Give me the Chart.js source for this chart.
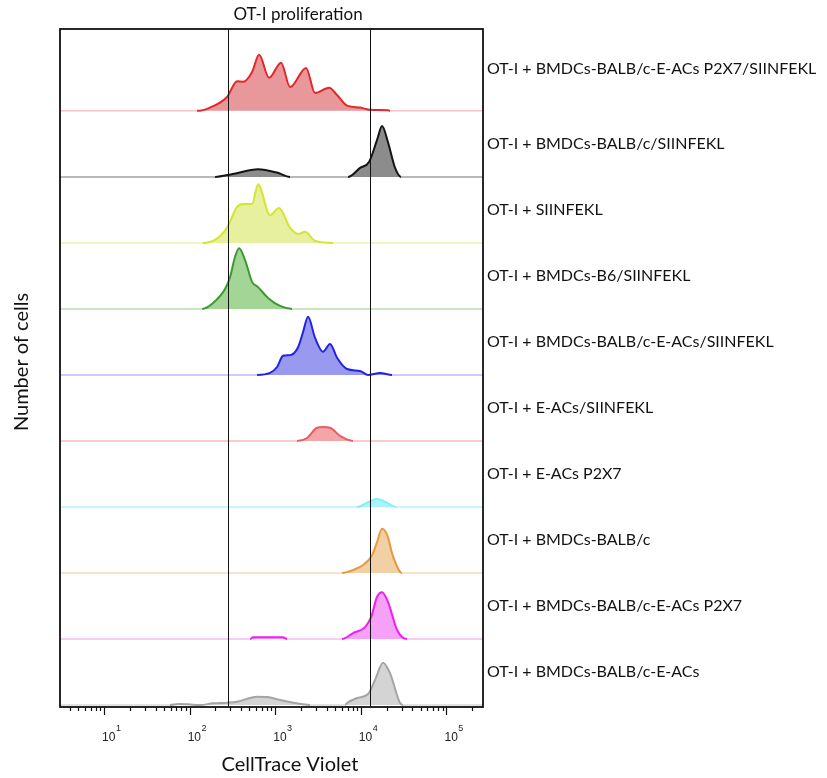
<!DOCTYPE html>
<html>
<head>
<meta charset="utf-8">
<title>OT-I proliferation</title>
<script src="https://cdn.jsdelivr.net/npm/chart.js@4.4.1/dist/chart.umd.min.js"></script>
<style>
  html, body { margin: 0; padding: 0; background: #fff; }
  #wrap { width: 827px; height: 778px; }
</style>
</head>
<body>
<div id="wrap"><canvas id="chart" width="827" height="778"></canvas></div>
<script>
// ---- data (CellTrace Violet intensity, relative cell count) ----
const sampleNames = [
    'OT-I + BMDCs-BALB/c-E-ACs P2X7/SIINFEKL',
    'OT-I + BMDCs-BALB/c/SIINFEKL',
    'OT-I + SIINFEKL',
    'OT-I + BMDCs-B6/SIINFEKL',
    'OT-I + BMDCs-BALB/c-E-ACs/SIINFEKL',
    'OT-I + E-ACs/SIINFEKL',
    'OT-I + E-ACs P2X7',
    'OT-I + BMDCs-BALB/c',
    'OT-I + BMDCs-BALB/c-E-ACs P2X7',
    'OT-I + BMDCs-BALB/c-E-ACs'
];

const hist1 = [[122,0],[173,0.05],[273,0.21],[358,0.45],[421,0.44],[536,0.59],[647,0.85],[846,0.50],[1169,0.73],[1489,0.36],[2290,0.65],[2917,0.27],[4251,0.35],[5270,0.24],[6898,0.08],[9786,0.05],[12800,0.015],[20780,0.008],[21940,0]];
const hist2 = [[198,0],[321,0.045],[630,0.116],[1049,0.065],[1489,0],[7086,0],[9786,0.136],[12460,0.227],[15460,0.56],[17680,0.77],[20780,0.52],[25090,0.136],[29480,0]];
const hist3 = [[143,0],[198,0.045],[273,0.23],[358,0.545],[421,0.59],[536,0.59],[630,0.89],[869,0.42],[1107,0.53],[1489,0.23],[1847,0.136],[2229,0.167],[2917,0.03],[4735,0]];
const hist4 = [[140,0],[188,0.09],[259,0.30],[296,0.48],[339,0.79],[378,0.92],[444,0.74],[536,0.41],[630,0.33],[824,0.167],[1138,0.045],[1572,0]];
const hist5 = [[613,0],[869,0.03],[1049,0.12],[1233,0.29],[1489,0.30],[1847,0.42],[2112,0.65],[2416,0.88],[2917,0.56],[3617,0.35],[4366,0.47],[5270,0.26],[6898,0.09],[9786,0.06],[12130,0],[16760,0.03],[23140,0]];
const hist6 = [[1797,0],[2352,0.045],[3078,0.20],[3617,0.21],[4366,0.20],[5714,0.076],[8110,0]];
const hist7 = [[9027,0],[11810,0.065],[15460,0.12],[19170,0.08],[25770,0]];
const hist8 = [[6030,0],[8110,0.045],[10610,0.12],[13510,0.27],[15460,0.47],[17680,0.67],[20230,0.58],[23780,0.25],[30280,0]];
const hist9 = [[508,0],[550,0.026],[1233,0.026],[1373,0],[6030,0],[8110,0.09],[11200,0.18],[13150,0.33],[15460,0.64],[17680,0.71],[20780,0.56],[26480,0.136],[34640,0]];
const hist10 = [[59,0],[73,0.015],[96,0.01],[132,0],[188,0.026],[273,0.035],[358,0.05],[613,0.126],[802,0.12],[1138,0.076],[2112,0.01],[2552,0],[6535,0],[6898,0.03],[9027,0.106],[12130,0.167],[14650,0.38],[18170,0.64],[21940,0.48],[28700,0.03],[31100,0]];

const gates = [281, 12800];
const tickPowers = [1, 2, 3, 4, 5];
const xMin = 3.06, xMax = 267000;

// ---- styles ----
const lineColors = ['#e3262b', '#141414', '#d2e62c', '#3c9b2e', '#2222e6', '#ea5c60', '#80eff9', '#e8993c', '#f21df2', '#a4a4a4'];
const fillColors = ['#e8979a', '#8c8c8c', '#e6f09e', '#a3d596', '#9999f0', '#f4a5a8', '#a6f5fb', '#f2d0a6', '#f7a0f7', '#d4d4d4'];
const baseColors = ['#f2c4c6', '#a0a0a0', '#e9f3b0', '#b6deac', '#bcbcf6', '#f6bcbe', '#b2f6fb', '#f3dab9', '#f8baf8', '#d8d8d8'];

const hists = [hist1, hist2, hist3, hist4, hist5, hist6, hist7, hist8, hist9, hist10];

const datasets = hists.map((h, i) => {
    const base = hists.length - 1 - i;
    const pts = [{x: xMin, y: base}]
        .concat(h.map(([v, c]) => ({x: v, y: base + c})))
        .concat([{x: xMax, y: base}]);
    const flat = ctx => ctx.p0.parsed.y === base && ctx.p1.parsed.y === base;
    return {
        label: sampleNames[i],
        data: pts,
        borderColor: lineColors[i],
        backgroundColor: fillColors[i],
        borderWidth: 2,
        pointRadius: 0,
        cubicInterpolationMode: 'monotone',
        fill: {value: base},
        segment: {
            borderColor: ctx => flat(ctx) ? baseColors[i] : lineColors[i],
            borderWidth: ctx => flat(ctx) ? 1.5 : 2
        }
    };
});

const decorPlugin = {
    id: 'decor',
    afterDatasetsDraw(chart) {
        const {ctx, chartArea: a, scales: {x, y}} = chart;
        ctx.save();

        // gate lines
        ctx.strokeStyle = '#111';
        ctx.lineWidth = 1;
        gates.forEach(g => {
            const px = Math.round(x.getPixelForValue(g)) + 0.5;
            ctx.beginPath(); ctx.moveTo(px, a.top); ctx.lineTo(px, a.bottom); ctx.stroke();
        });

        // frame
        ctx.lineWidth = 1.8;
        ctx.strokeStyle = '#111';
        ctx.strokeRect(a.left, a.top, a.right - a.left, a.bottom - a.top);

        // log tick marks
        ctx.lineWidth = 1.2;
        for (let e = 0; e <= 5; e++) {
            for (let m = 1; m <= 9; m++) {
                const v = m * Math.pow(10, e);
                if (v < xMin || v > xMax) continue;
                const px = Math.round(x.getPixelForValue(v)) + 0.5;
                const len = m === 1 ? 8 : 4;
                ctx.beginPath(); ctx.moveTo(px, a.bottom); ctx.lineTo(px, a.bottom + len); ctx.stroke();
            }
        }

        // tick labels 10^n
        ctx.fillStyle = '#222';
        ctx.textBaseline = 'alphabetic';
        ctx.textAlign = 'left';
        tickPowers.forEach(p => {
            const px = x.getPixelForValue(Math.pow(10, p));
            ctx.font = '12px "Liberation Sans", Arial, sans-serif';
            ctx.fillText('10', px - 2, 741);
            const w = ctx.measureText('10').width;
            ctx.font = '9px "Liberation Sans", Arial, sans-serif';
            ctx.fillText(String(p), px - 2 + w + 0.5, 731);
        });

        // sample labels on the right
        ctx.font = '16px Lato, "Open Sans", sans-serif';
        ctx.fillStyle = '#111';
        ctx.textBaseline = 'middle';
        sampleNames.forEach((name, i) => {
            const base = sampleNames.length - 1 - i;
            const lift = i === 0 ? 0.64 : 0.5;
            ctx.fillText(name, a.right + 4, y.getPixelForValue(base + lift));
        });

        // titles
        ctx.textAlign = 'center';
        ctx.font = '17px Lato, "Open Sans", sans-serif';
        ctx.fillText('OT-I proliferation', 298, 15);
        ctx.font = '20px Lato, "Open Sans", sans-serif';
        ctx.fillText('CellTrace Violet', 290, 765);
        ctx.translate(22, 362);
        ctx.rotate(-Math.PI / 2);
        ctx.fillText('Number of cells', 0, 0);
        ctx.restore();
    }
};

new Chart(document.getElementById('chart').getContext('2d'), {
    type: 'line',
    data: { datasets: datasets },
    options: {
        responsive: false,
        animation: false,
        devicePixelRatio: 1,
        layout: { padding: { left: 60, right: 344, top: 29, bottom: 0 } },
        plugins: { legend: { display: false }, tooltip: { enabled: false }, title: { display: false } },
        scales: {
            x: {
                type: 'logarithmic',
                min: xMin,
                max: xMax,
                grid: { display: false, drawTicks: false },
                border: { display: false },
                ticks: { display: false },
                afterFit: s => { s.height = 71; }
            },
            y: {
                type: 'linear',
                min: -0.03,
                max: 10.24,
                display: false
            }
        }
    },
    plugins: [decorPlugin]
});
</script>
</body>
</html>
